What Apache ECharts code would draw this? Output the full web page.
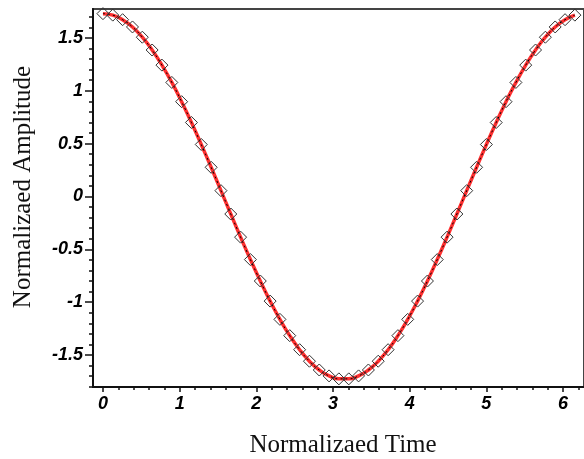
<!DOCTYPE html>
<html>
<head>
<meta charset="utf-8">
<script src="https://cdn.jsdelivr.net/npm/echarts@6/dist/echarts.min.js"></script>
<style>html,body{margin:0;padding:0;background:#fff}#c{width:584px;height:459px}</style>
</head>
<body>
<div id="c"></div>
<script>
// Data
const timeValues = [0, 0.128, 0.256, 0.385, 0.513, 0.641, 0.769, 0.898, 1.026, 1.154, 1.282, 1.411, 1.539, 1.667, 1.795, 1.923, 2.052, 2.180, 2.308, 2.436, 2.565, 2.693, 2.821, 2.949, 3.077, 3.206, 3.334, 3.462, 3.590, 3.719, 3.847, 3.975, 4.103, 4.232, 4.360, 4.488, 4.616, 4.744, 4.873, 5.001, 5.129, 5.257, 5.386, 5.514, 5.642, 5.770, 5.898, 6.027, 6.155];
const amplitudeValues = [1.730, 1.716, 1.673, 1.604, 1.507, 1.386, 1.243, 1.079, 0.897, 0.700, 0.492, 0.276, 0.055, -0.166, -0.385, -0.597, -0.800, -0.990, -1.163, -1.317, -1.450, -1.559, -1.642, -1.698, -1.726, -1.726, -1.698, -1.642, -1.559, -1.450, -1.317, -1.163, -0.990, -0.800, -0.597, -0.385, -0.166, 0.055, 0.276, 0.492, 0.700, 0.897, 1.079, 1.243, 1.386, 1.507, 1.604, 1.673, 1.716];
const xTickLabels = [0, 1, 2, 3, 4, 5, 6];
const xMinorTicks = [0.2, 0.4, 0.6, 0.8, 1.2, 1.4, 1.6, 1.8, 2.2, 2.4, 2.6, 2.8, 3.2, 3.4, 3.6, 3.8, 4.2, 4.4, 4.6, 4.8, 5.2, 5.4, 5.6, 5.8, 6.2];
const yTickLabels = [-1.5, -1, -0.5, 0, 0.5, 1, 1.5];
const yMinorTicks = [-1.8, -1.7, -1.6, -1.4, -1.3, -1.2, -1.1, -0.9, -0.8, -0.7, -0.6, -0.4, -0.3, -0.2, -0.1, 0.1, 0.2, 0.3, 0.4, 0.6, 0.7, 0.8, 0.9, 1.1, 1.2, 1.3, 1.4, 1.6, 1.7];
const xTitle = 'Normalizaed Time';
const yTitle = 'Normalizaed Amplitude';

const points = timeValues.map((t, i) => [t, amplitudeValues[i]]);
const xMin = -0.13, xMax = 6.274, yMin = -1.803, yMax = 1.774;
const labelFont = { fontFamily: 'Liberation Sans', fontWeight: 'bold', fontStyle: 'italic', fontSize: 18, color: '#000' };

const chart = echarts.init(document.getElementById('c'), null, { renderer: 'canvas' });
chart.setOption({
  animation: false,
  backgroundColor: '#fff',
  grid: { left: 93, right: 0, top: 9, bottom: 72, show: true, borderColor: '#444', borderWidth: 2, backgroundColor: 'transparent' },
  xAxis: [
    { type: 'value', min: xMin, max: xMax, position: 'bottom',
      axisLine: { show: true, onZero: false, lineStyle: { color: '#111', width: 2 } },
      axisTick: { show: true, length: 5, customValues: xTickLabels, lineStyle: { color: '#111', width: 1.5 } },
      axisLabel: Object.assign({ customValues: xTickLabels, margin: 8, showMinLabel: true, showMaxLabel: true }, labelFont),
      splitLine: { show: false } },
    { type: 'value', min: xMin, max: xMax, position: 'bottom',
      axisLine: { show: false, onZero: false },
      axisTick: { show: true, length: 3, customValues: xMinorTicks, lineStyle: { color: '#111', width: 1.5 } },
      axisLabel: { show: false }, splitLine: { show: false } }
  ],
  yAxis: [
    { type: 'value', min: yMin, max: yMax, position: 'left',
      axisLine: { show: true, onZero: false, lineStyle: { color: '#111', width: 2 } },
      axisTick: { show: true, length: 8, customValues: yTickLabels, lineStyle: { color: '#111', width: 1.5 } },
      axisLabel: Object.assign({ customValues: yTickLabels, margin: 10, showMinLabel: true, showMaxLabel: true }, labelFont),
      splitLine: { show: false } },
    { type: 'value', min: yMin, max: yMax, position: 'left',
      axisLine: { show: false, onZero: false },
      axisTick: { show: true, length: 4, customValues: yMinorTicks, lineStyle: { color: '#111', width: 1.5 } },
      axisLabel: { show: false }, splitLine: { show: false } }
  ],
  graphic: [
    { type: 'text', x: 343, y: 445, style: { text: xTitle, fontFamily: 'Liberation Serif', fontSize: 25, fill: '#111', textAlign: 'center', textVerticalAlign: 'middle' } },
    { type: 'text', x: 23, y: 187, rotation: Math.PI / 2, style: { text: yTitle, fontFamily: 'Liberation Serif', fontSize: 25, fill: '#111', textAlign: 'center', textVerticalAlign: 'middle' } }
  ],
  series: [
    { type: 'line', xAxisIndex: 0, yAxisIndex: 0, data: points, smooth: true, showSymbol: false, silent: true,
      lineStyle: { color: '#ff3030', width: 3.5 }, z: 2 },
    { type: 'line', xAxisIndex: 0, yAxisIndex: 0, data: points, smooth: true, symbol: 'diamond', symbolSize: 12,
      itemStyle: { color: 'rgba(0,0,0,0)', borderColor: '#333', borderWidth: 1 },
      lineStyle: { color: '#000', width: 1, type: [2, 3] }, z: 3 }
  ]
});
</script>
</body>
</html>
